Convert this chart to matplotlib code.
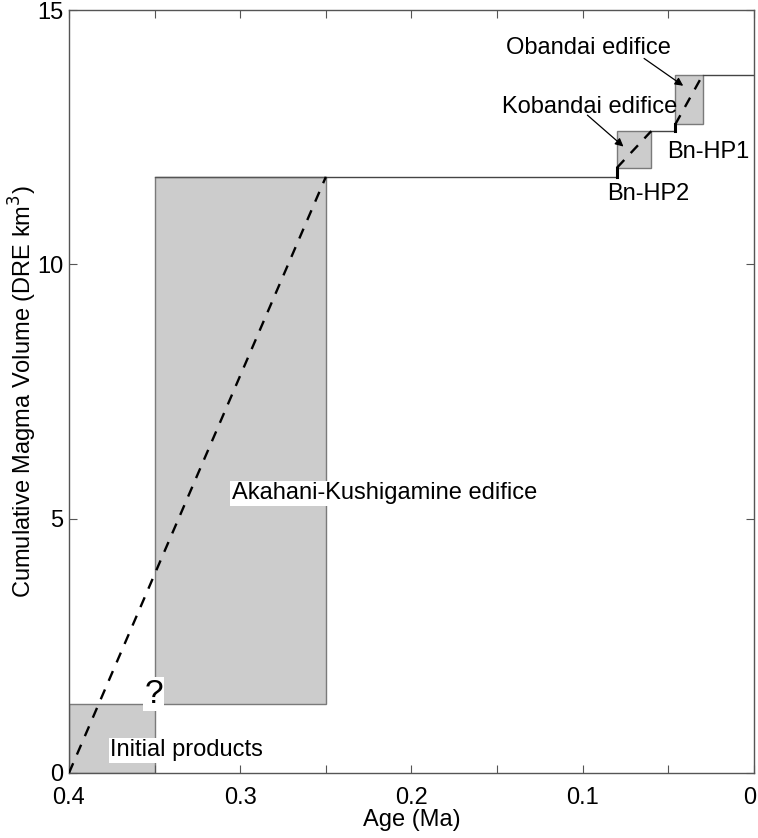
import matplotlib.pyplot as plt
import matplotlib.transforms as mtransforms
from matplotlib.patches import Rectangle
from matplotlib.ticker import MultipleLocator, FixedFormatter, FixedLocator

plt.rcParams['font.family'] = ['Liberation Sans', 'DejaVu Sans']

# eruptive stages: (name, age_old, age_young, vol_bottom, vol_top)
stage_names = ['Initial products', 'Akahani-Kushigamine edifice', 'Kobandai edifice', 'Obandai edifice']
age_old = [0.40, 0.35, 0.080, 0.046]
age_young = [0.35, 0.25, 0.060, 0.030]
vol_bottom = [0.0, 1.35, 11.9, 12.75]
vol_top = [1.35, 11.72, 12.62, 13.72]

# cumulative volume curve (solid parts) and dashed growth trends
curve_age = [0.25, 0.080, 0.080]
curve_vol = [11.72, 11.72, 11.9]
curve2_age = [0.060, 0.046, 0.046]
curve2_vol = [12.62, 12.62, 12.75]
tail_age = [0.030, 0.0]
tail_vol = [13.72, 13.72]

fig = plt.figure(figsize=(7.58, 8.38), dpi=100)
ax = fig.add_axes([0.091, 0.0776, 0.9037, 0.9104])

for i in range(len(stage_names)):
    ax.add_patch(Rectangle((age_young[i], vol_bottom[i]), age_old[i] - age_young[i],
                           vol_top[i] - vol_bottom[i], facecolor='#cccccc',
                           edgecolor='#7a7a7a', lw=1.0, zorder=1))

ax.plot(curve_age[:2], curve_vol[:2], color='#444444', lw=1.0, zorder=2)
ax.plot(curve_age[1:], curve_vol[1:], color='black', lw=2.2, zorder=2)
ax.plot(curve2_age[:2], curve2_vol[:2], color='#444444', lw=1.0, zorder=2)
ax.plot(curve2_age[1:], curve2_vol[1:], color='black', lw=2.2, zorder=2)
ax.plot(tail_age, tail_vol, color='#444444', lw=1.0, zorder=2)
ax.plot([0.35, 0.25], [11.72, 11.72], color='#555555', lw=1.0, zorder=2)

# linear growth through each stage
dash = dict(color='black', lw=1.7, ls=(0, (4.5, 4)), zorder=3)
ax.plot([age_old[0], age_young[1]], [vol_bottom[0], vol_top[1]], **dash)
ax.plot([age_old[2], age_young[2]], [vol_bottom[2], vol_top[2]], **dash)
ax.plot([age_old[3], age_young[3]], [vol_bottom[3], vol_top[3]], **dash)

box = dict(facecolor='white', edgecolor='none', pad=1.0)
ax.text(0.376, 0.45, stage_names[0], fontsize=17, va='center', ha='left', bbox=box, zorder=5)
ax.text(0.3505, 1.55, '?', fontsize=24, va='center', ha='center', bbox=box, zorder=5)
ax.text(0.305, 5.5, stage_names[1], fontsize=17, va='center', ha='left', bbox=box, zorder=5)
ax.text(0.147, 13.1, stage_names[2], fontsize=17, va='center', ha='left', zorder=5)
ax.text(0.145, 14.25, stage_names[3], fontsize=17, va='center', ha='left', zorder=5)
ax.text(0.0855, 11.38, 'Bn-HP2', fontsize=17, va='center', ha='left', zorder=5)
ax.text(0.0508, 12.2, 'Bn-HP1', fontsize=17, va='center', ha='left', zorder=5)

arrow = dict(arrowstyle='-|>', color='black', lw=0.9, mutation_scale=12)
ax.annotate('', xy=(0.075, 12.28), xytext=(0.0985, 12.97), arrowprops=arrow, zorder=5)
ax.annotate('', xy=(0.040, 13.48), xytext=(0.0655, 14.08), arrowprops=arrow, zorder=5)

ax.set_xlim(0.4, 0.0)
ax.set_ylim(0, 15)
ax.xaxis.set_major_locator(FixedLocator([0.4, 0.35, 0.3, 0.25, 0.2, 0.15, 0.1, 0.05, 0.0]))
ax.xaxis.set_major_formatter(FixedFormatter(['0.4', '', '0.3', '', '0.2', '', '0.1', '', '0']))
ax.yaxis.set_major_locator(MultipleLocator(5))
ax.tick_params(direction='in', top=True, right=True, length=6, width=0.8,
               color='#555555', labelsize=17)
ax.tick_params(axis='x', pad=10)
ax.tick_params(axis='y', pad=4)
for sp in ax.spines.values():
    sp.set_color('#555555')
    sp.set_linewidth(1.0)

# keep the "0" at the right end inside the figure
last = ax.get_xticklabels()[-1]
last.set_transform(last.get_transform() +
                   mtransforms.ScaledTranslation(-3 / 72, 0, fig.dpi_scale_trans))

ax.set_xlabel('Age (Ma)', fontsize=17, labelpad=0)
ax.set_ylabel('Cumulative Magma Volume (DRE km$^3$)', fontsize=17, labelpad=-1)

plt.savefig('out.png')
